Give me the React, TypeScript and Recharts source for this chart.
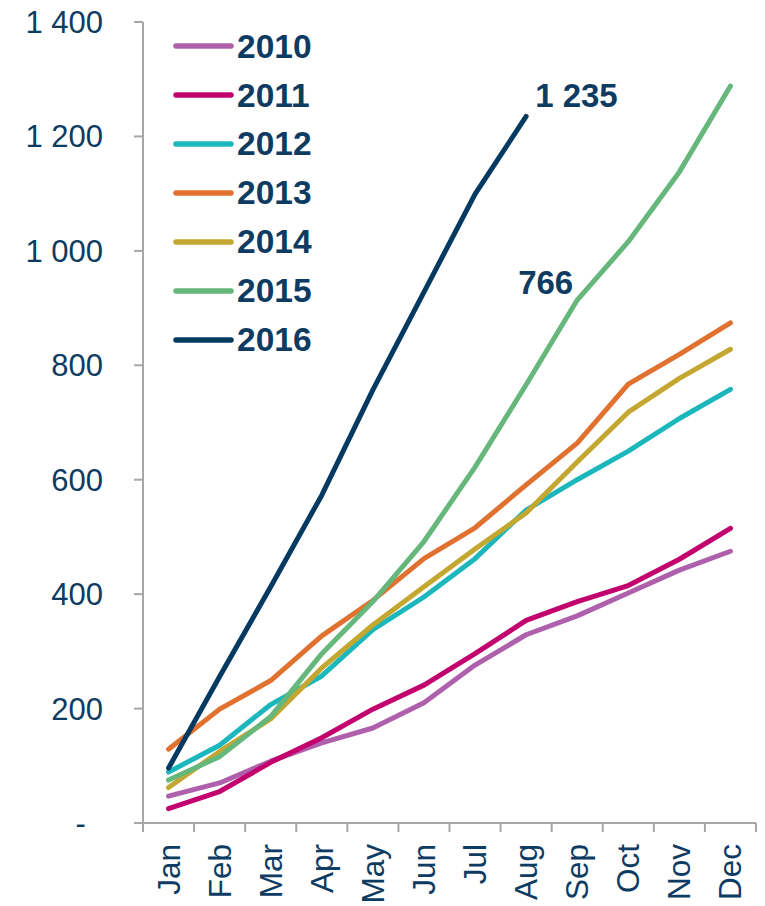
import * as React from "react"
import { LineChart, Line, XAxis, YAxis, Legend, LabelList } from "recharts"

const months = ["Jan", "Feb", "Mar", "Apr", "May", "Jun", "Jul", "Aug", "Sep", "Oct", "Nov", "Dec"]
const years = ["2010", "2011", "2012", "2013", "2014", "2015", "2016"]
const colors = ["#af60ad", "#c2006e", "#1cb6bd", "#e1712e", "#c4a731", "#65b77b", "#043a62"]

const v2010 = [47, 70, 108, 140, 166, 210, 276, 329, 362, 402, 442, 475]
const v2011 = [25, 55, 106, 149, 199, 241, 296, 354, 387, 415, 461, 515]
const v2012 = [89, 136, 207, 257, 338, 395, 462, 547, 600, 650, 707, 758]
const v2013 = [129, 199, 249, 327, 389, 462, 516, 591, 664, 767, 819, 874]
const v2014 = [62, 125, 182, 271, 346, 413, 479, 542, 631, 718, 777, 828]
const v2015 = [75, 116, 186, 296, 387, 492, 622, 766, 914, 1016, 1138, 1288]
const v2016 = [96, 256, 413, 573, 757, 928, 1099, 1235]

const yTicks = [0, 200, 400, 600, 800, 1000, 1200, 1400]

const series = [v2010, v2011, v2012, v2013, v2014, v2015, v2016]

const data = months.map((m, i) => {
  const row: any = { x: i + 0.5, month: m }
  years.forEach((y, k) => {
    row[y] = series[k][i]
  })
  return row
})

const W = 765
const H = 906
const LEFT = 143
const RIGHT = 9
const BAND = (W - LEFT - RIGHT) / 12
const FONT = "'Liberation Sans', Arial, sans-serif"
const TEXT = "#0d3b62"
const AXIS = "#a6a6a6"

function fmtY(v: number) {
  if (v === 0) return "-\u00a0\u00a0"
  if (v >= 1000) return `${Math.floor(v / 1000)}\u00a0${String(v % 1000).padStart(3, "0")}`
  return String(v)
}

function MonthTick({ x, y, payload }: any) {
  if (payload.value >= 12) return <g />
  const cx = x + BAND / 2
  return (
    <text
      x={cx}
      y={y}
      transform={`rotate(-90, ${cx}, ${y})`}
      textAnchor="end"
      dy="0.35em"
      fill={TEXT}
      fontSize={31.5}
      fontFamily={FONT}
    >
      {months[payload.value]}
    </text>
  )
}

function LegendBox({ payload }: any) {
  return (
    <div style={{ fontFamily: FONT }}>
      {(payload || []).map((p: any) => (
        <div key={p.value} style={{ display: "flex", alignItems: "center", height: 48.9 }}>
          <svg width={64} height={10} style={{ display: "block" }}>
            <line x1={3} y1={5} x2={58} y2={5} stroke={p.color} strokeWidth={5.5} strokeLinecap="round" />
          </svg>
          <span style={{ fontSize: 33.5, fontWeight: 700, color: TEXT, lineHeight: 1 }}>{p.value}</span>
        </div>
      ))}
    </div>
  )
}

// value label next to one point of a line
function pointLabel(at: number, dx: number, dy: number) {
  return (props: any) => {
    const { x, y, value, index } = props
    if (index !== at || value == null) return null
    return (
      <text x={x + dx} y={y + dy} fill={TEXT} fontSize={33} fontWeight={700} fontFamily={FONT}>
        {fmtY(value)}
      </text>
    )
  }
}

export default function App() {
  return (
    <div style={{ position: "absolute", left: 0, top: 0, width: W, height: H, background: "#fff" }}>
      <LineChart width={W} height={H} data={data} margin={{ top: 22, right: RIGHT, left: 0, bottom: 0 }}>
        <XAxis
          dataKey="x"
          type="number"
          domain={[0, 12]}
          ticks={[0, 1, 2, 3, 4, 5, 6, 7, 8, 9, 10, 11, 12]}
          interval={0}
          height={83}
          tickSize={9}
          tickMargin={12}
          axisLine={{ stroke: AXIS, strokeWidth: 2 }}
          tickLine={{ stroke: AXIS, strokeWidth: 2 }}
          tick={<MonthTick />}
        />
        <YAxis
          type="number"
          domain={[0, 1400]}
          ticks={yTicks}
          width={LEFT}
          tickSize={9}
          tickMargin={31}
          axisLine={{ stroke: AXIS, strokeWidth: 2 }}
          tickLine={{ stroke: AXIS, strokeWidth: 2 }}
          tick={{ fill: TEXT, fontSize: 31, fontFamily: FONT }}
          tickFormatter={fmtY}
        />
        <Legend
          layout="vertical"
          align="center"
          verticalAlign="middle"
          content={<LegendBox />}
          wrapperStyle={{ left: 173, top: 22, width: 180 }}
        />
        {years.map((y, k) => (
          <Line
            key={y}
            dataKey={y}
            name={y}
            stroke={colors[k]}
            strokeWidth={5}
            strokeLinecap="round"
            strokeLinejoin="round"
            dot={false}
            activeDot={false}
            isAnimationActive={false}
          >
            {y === "2015" && <LabelList dataKey={y} content={pointLabel(7, -8, -91)} />}
            {y === "2016" && <LabelList dataKey={y} content={pointLabel(7, 9, -9)} />}
          </Line>
        ))}
      </LineChart>
    </div>
  )
}
